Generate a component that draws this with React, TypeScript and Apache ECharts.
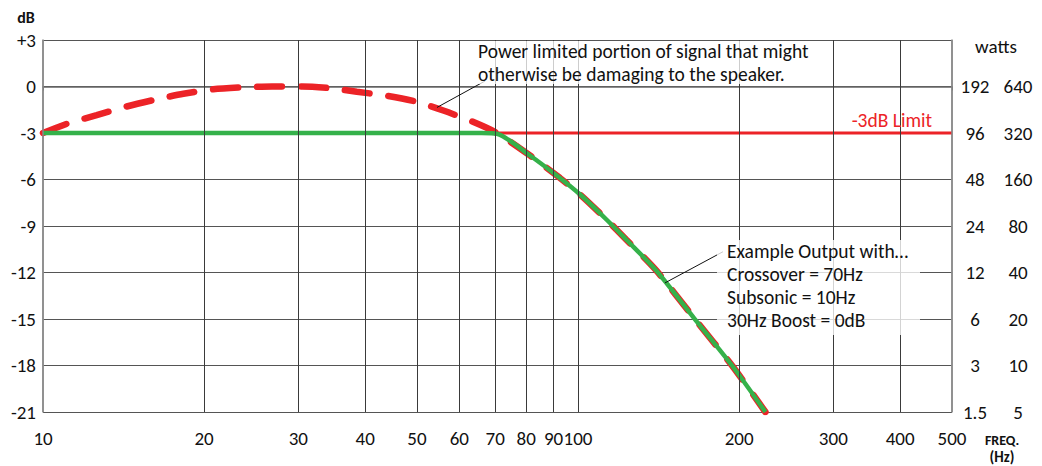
import React, { useEffect, useRef } from "react";
import * as echarts from "echarts";

const FONT = "Carlito, Lato, 'Noto Sans', sans-serif";

const freqTicks = [10, 20, 30, 40, 50, 60, 70, 80, 90, 100, 200, 300, 400, 500];
const dbTicks = [3, 0, -3, -6, -9, -12, -15, -18, -21];
const wattsA = ["", "192", "96", "48", "24", "12", "6", "3", "1.5"];
const wattsB = ["", "640", "320", "160", "80", "40", "20", "10", "5"];

const limitDb = -3;

const rollOff: [number, number][] = [
  [81.3, -4.45],
  [92.5, -5.9],
  [100.9, -6.97],
  [113, -8.58],
  [123, -9.87],
  [140, -11.87],
  [165, -14.97],
  [194, -18.0],
  [224, -21.0],
];

const unlimited: [number, number][] = [
  [10, -3],
  [11.2, -2.35],
  [12.6, -1.85],
  [14.3, -1.3],
  [16.2, -0.85],
  [18.3, -0.47],
  [20.8, -0.18],
  [23.7, -0.05],
  [26.8, 0],
  [30.5, 0],
  [34.4, -0.11],
  [38.6, -0.34],
  [44, -0.6],
  [49.6, -0.96],
  [56, -1.55],
  [63.4, -2.26],
  [70.5, -3],
  ...rollOff,
];

const limited: [number, number][] = [
  [10, -3],
  [66, -3],
  [70.5, -3.05],
  ...rollOff,
];

const powerLines = ["Power limited portion of signal that might", "otherwise be damaging to the speaker."];
const exampleLines = ["Example Output with…", "Crossover = 70Hz", "Subsonic = 10Hz", "30Hz Boost = 0dB"];
const freqTitle = ["FREQ.", "(Hz)"];

export default function App() {
  const ref = useRef<HTMLDivElement>(null);
  useEffect(() => {
    document.body.style.margin = "0";
    const chart = echarts.init(ref.current!, null, { renderer: "svg" });
    const gridColor = "#3a3a3a";
    const borderColor = "#8a8a8a";
    const tickFont = 19;
    const powerY = [51, 74];
    const exampleY = [251, 274, 297, 320];
    const freqY = [440, 457];
    chart.setOption({
      animation: false,
      backgroundColor: "#fff",
      textStyle: { fontFamily: FONT },
      grid: { left: 43, top: 40, width: 909, height: 372, containLabel: false },
      xAxis: {
        type: "log",
        logBase: 10,
        min: 10,
        max: 500,
        axisLine: { show: true, lineStyle: { color: "#666", width: 1.5 } },
        axisTick: { show: true, length: 4, lineStyle: { color: "#666" } },
        axisLabel: { show: false },
        splitLine: { show: false },
      },
      yAxis: [
        {
          type: "value",
          min: -21,
          max: 3,
          interval: 3,
          axisLine: { show: true, lineStyle: { color: borderColor, width: 1.5 } },
          axisTick: { show: false },
          axisLabel: {
            margin: 7,
            color: "#111",
            fontSize: tickFont,
            fontFamily: FONT,
            formatter: (v: number) => (v > 0 ? "+" + v : String(v)),
          },
          splitLine: { show: true, lineStyle: { color: "#555", width: 1 } },
        },
        {
          type: "value",
          position: "right",
          min: -21,
          max: 3,
          interval: 3,
          axisLine: { show: true, lineStyle: { color: borderColor, width: 1.5 } },
          axisTick: { show: false },
          splitLine: { show: false },
          axisLabel: {
            margin: 23,
            align: "center",
            color: "#111",
            fontSize: tickFont,
            fontFamily: FONT,
            formatter: (v: number) => {
              const i = dbTicks.indexOf(v);
              return i >= 0 ? wattsA[i] : "";
            },
          },
        },
        {
          type: "value",
          position: "right",
          min: -21,
          max: 3,
          interval: 3,
          axisLine: { show: false },
          axisTick: { show: false },
          splitLine: { show: false },
          axisLabel: {
            margin: 66,
            align: "center",
            color: "#111",
            fontSize: tickFont,
            fontFamily: FONT,
            formatter: (v: number) => {
              const i = dbTicks.indexOf(v);
              return i >= 0 ? wattsB[i] : "";
            },
          },
        },
      ],
      series: [
        {
          name: "grid",
          type: "line",
          data: [[10, -21]],
          symbol: "none",
          lineStyle: { width: 0 },
          silent: true,
          z: 1,
          markLine: {
            silent: true,
            symbol: ["none", "none"],
            animation: false,
            label: {
              show: true,
              position: "start",
              distance: 17,
              color: "#111",
              fontSize: tickFont,
              fontFamily: FONT,
              formatter: (p: any) => p.name,
            },
            data: freqTicks.map((f) => ({
              xAxis: f,
              name: String(f),
              lineStyle: {
                type: "solid",
                color: f === 10 || f === 500 ? borderColor : gridColor,
                width: f === 10 || f === 500 ? 1.5 : 1,
              },
            })),
          },
        },
        {
          name: "limit",
          type: "line",
          data: [
            [10, limitDb],
            [500, limitDb],
          ],
          symbol: "none",
          lineStyle: { color: "#ec2327", width: 3 },
          z: 2,
        },
        {
          name: "unlimited",
          type: "line",
          data: unlimited,
          symbol: "none",
          smooth: 0.25,
          lineStyle: { color: "#ec2327", width: 6.5, type: [25, 19], cap: "round" },
          z: 3,
          markLine: {
            silent: true,
            symbol: ["none", "none"],
            label: { show: false },
            lineStyle: { color: "#111", width: 1, type: "solid" },
            data: [[{ coord: [67.0, 0.35] }, { coord: [54.5, -1.35] }]],
          },
        },
        {
          name: "limited",
          type: "line",
          data: limited,
          symbol: "none",
          smooth: 0.25,
          lineStyle: { color: "#35b14a", width: 4.5 },
          z: 4,
          markLine: {
            silent: true,
            symbol: ["none", "none"],
            label: { show: false },
            lineStyle: { color: "#111", width: 1, type: "solid" },
            data: [[{ coord: [186.6, -10.66] }, { coord: [145.4, -12.67] }]],
          },
        },
      ],
      graphic: [
        {
          type: "rect",
          z: 99,
          shape: { x: 475, y: 41, width: 345, height: 43 },
          style: { fill: "rgba(255,255,255,0.75)" },
        },
        {
          type: "rect",
          z: 99,
          shape: { x: 717, y: 240, width: 203, height: 95 },
          style: { fill: "rgba(255,255,255,0.78)" },
        },
        ...powerLines.map((t, i) => ({
          type: "text",
          z: 100,
          x: 478,
          y: powerY[i],
          style: { text: t, font: `19.5px ${FONT}`, fill: "#111", verticalAlign: "middle" },
        })),
        ...exampleLines.map((t, i) => ({
          type: "text",
          z: 100,
          x: 727,
          y: exampleY[i],
          style: { text: t, font: `19.5px ${FONT}`, fill: "#111", verticalAlign: "middle" },
        })),
        {
          type: "text",
          z: 100,
          x: 932,
          y: 120,
          style: {
            text: "-3dB Limit",
            font: `19.5px ${FONT}`,
            fill: "#ec2327",
            align: "right",
            verticalAlign: "middle",
          },
        },
        {
          type: "text",
          z: 100,
          x: 26,
          y: 17,
          style: {
            text: "dB",
            font: `bold 16px ${FONT}`,
            fill: "#111",
            align: "center",
            verticalAlign: "middle",
          },
        },
        {
          type: "text",
          z: 100,
          x: 996,
          y: 46,
          style: {
            text: "watts",
            font: `19px ${FONT}`,
            fill: "#111",
            align: "center",
            verticalAlign: "middle",
          },
        },
        ...freqTitle.map((t, i) => ({
          type: "text",
          z: 100,
          x: 1002,
          y: freqY[i],
          style: {
            text: t,
            font: `bold ${i === 0 ? 14 : 15}px ${FONT}`,
            fill: "#111",
            align: "center",
            verticalAlign: "middle",
          },
        })),
      ],
    });
    return () => chart.dispose();
  }, []);
  return <div ref={ref} style={{ width: 1042, height: 466 }} />;
}
